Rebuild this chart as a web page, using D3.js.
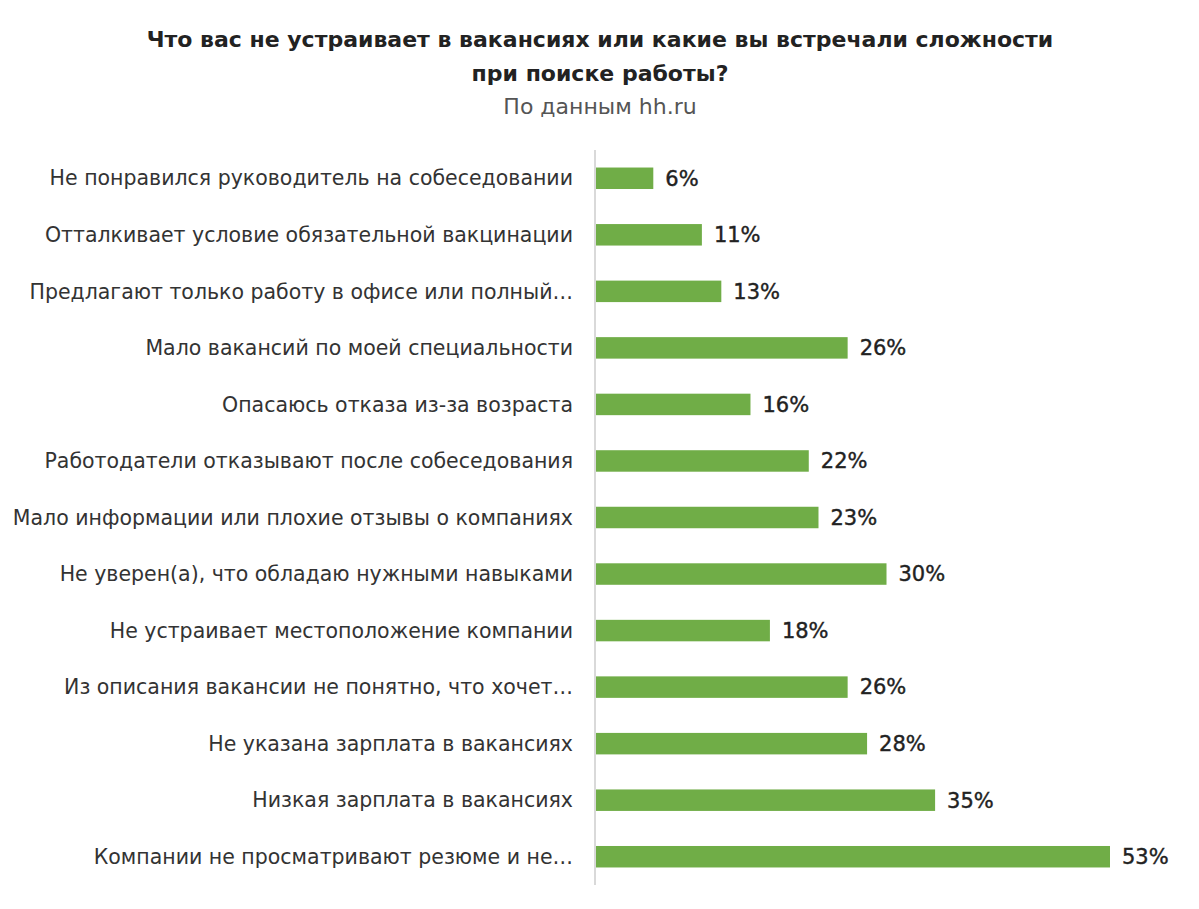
<!DOCTYPE html>
<html><head><meta charset="utf-8">
<script src="https://cdn.jsdelivr.net/npm/d3@7"></script>
<style>body{margin:0;background:#fff}</style>
</head><body>
<svg id="chart" width="1199" height="909"></svg>
<script>
const categories = [
  "Не понравился руководитель на собеседовании",
  "Отталкивает условие обязательной вакцинации",
  "Предлагают только работу в офисе или полный…",
  "Мало вакансий по моей специальности",
  "Опасаюсь отказа из-за возраста",
  "Работодатели отказывают после собеседования",
  "Мало информации или плохие отзывы о компаниях",
  "Не уверен(а), что обладаю нужными навыками",
  "Не устраивает местоположение компании",
  "Из описания вакансии не понятно, что хочет…",
  "Не указана зарплата в вакансиях",
  "Низкая зарплата в вакансиях",
  "Компании не просматривают резюме и не…"
];
const values = [6, 11, 13, 26, 16, 22, 23, 30, 18, 26, 28, 35, 53];

const svg = d3.select('#chart');
const font = '"DejaVu Sans", sans-serif';

svg.append('text').attr('x', 600).attr('y', 47).attr('text-anchor', 'middle')
  .style('font', `600 22px ${font}`).attr('fill', '#222')
  .text('Что вас не устраивает в вакансиях или какие вы встречали сложности');
svg.append('text').attr('x', 600).attr('y', 81).attr('text-anchor', 'middle')
  .style('font', `600 22px ${font}`).attr('fill', '#222')
  .text('при поиске работы?');
svg.append('text').attr('x', 600).attr('y', 114).attr('text-anchor', 'middle')
  .style('font', `22px ${font}`).attr('fill', '#555')
  .text('По данным hh.ru');

const x = d3.scaleLinear().domain([0, 53]).range([595, 1110]);
const y = d3.scaleBand().domain(categories).range([150, 885]).paddingInner(0.62).paddingOuter(0.31);

svg.append('line').attr('x1', 595).attr('x2', 595).attr('y1', 150).attr('y2', 885)
  .attr('stroke', '#ccc').attr('stroke-width', 1.5);

svg.selectAll('rect.bar').data(values).join('rect').attr('class', 'bar')
  .attr('x', x(0) + 1).attr('y', (d, i) => y(categories[i]))
  .attr('width', d => x(d) - x(0) - 1).attr('height', y.bandwidth())
  .attr('fill', '#70ad47');

svg.selectAll('text.val').data(values).join('text').attr('class', 'val')
  .attr('x', d => x(d) + 12).attr('y', (d, i) => y(categories[i]) + y.bandwidth() / 2)
  .attr('dy', '0.35em').style('font', `21px ${font}`).attr('fill', '#222')
  .attr('stroke', '#222').attr('stroke-width', 0.4)
  .text(d => d + '%');

svg.selectAll('text.cat').data(categories).join('text').attr('class', 'cat')
  .attr('x', 573).attr('y', d => y(d) + y.bandwidth() / 2)
  .attr('dy', '0.35em').attr('text-anchor', 'end')
  .style('font', `20.5px ${font}`).attr('fill', '#333')
  .text(d => d);
</script>
</body></html>
